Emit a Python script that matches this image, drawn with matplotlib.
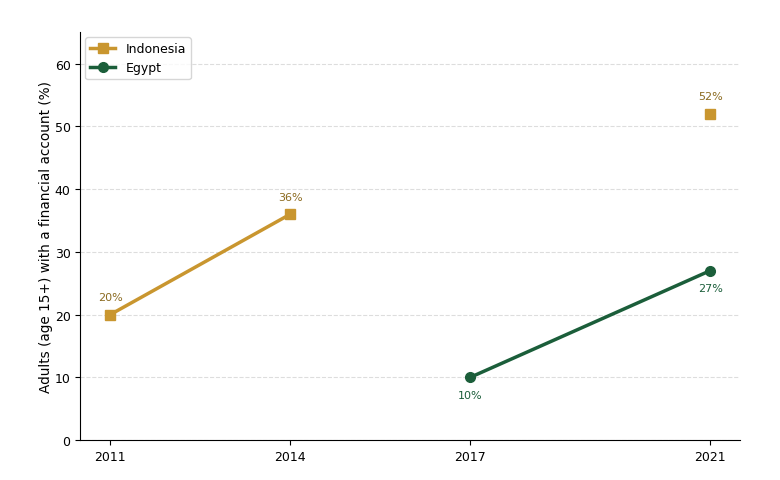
import numpy as np
import matplotlib
matplotlib.use("Agg")
import matplotlib.pyplot as plt

years = [2011, 2014, 2017, 2021]
indonesia = [20, 36, np.nan, 52]
egypt = [np.nan, np.nan, 10, 27]
tick_labels = ["2011", "2014", "2017", "2021"]

c_indo = "#C9962F"
c_indo_txt = "#8B6A1F"
c_egy = "#1B5E3A"

fig = plt.figure(figsize=(7.8, 4.81), dpi=100)
ax = fig.add_axes([0.103, 0.083, 0.846, 0.848])

ax.plot(years, indonesia, color=c_indo, lw=2.5, marker="s", markersize=7, label="Indonesia")
ax.plot(years, egypt, color=c_egy, lw=2.5, marker="o", markersize=7, label="Egypt")

for x, v in zip(years, indonesia):
    if not np.isnan(v):
        ax.annotate(f"{v:.0f}%", (x, v), xytext=(0, 9), textcoords="offset points",
                    ha="center", va="bottom", fontsize=8, color=c_indo_txt)
for x, v in zip(years, egypt):
    if not np.isnan(v):
        ax.annotate(f"{v:.0f}%", (x, v), xytext=(0, -9), textcoords="offset points",
                    ha="center", va="top", fontsize=8, color=c_egy)

ax.set_xlim(2010.5, 2021.5)
ax.set_ylim(0, 65)
ax.set_xticks(years)
ax.set_xticklabels(tick_labels)
ax.set_yticks([0, 10, 20, 30, 40, 50, 60])
ax.tick_params(labelsize=9)
ax.set_ylabel("Adults (age 15+) with a financial account (%)", fontsize=9.8, labelpad=1)
ax.grid(axis="y", linestyle="--", color="#dddddd", lw=0.8)
ax.set_axisbelow(True)
for s in ["top", "right"]:
    ax.spines[s].set_visible(False)
ax.legend(loc="upper left", fontsize=9, borderaxespad=0.4)

fig.savefig("out.png", dpi=100)
